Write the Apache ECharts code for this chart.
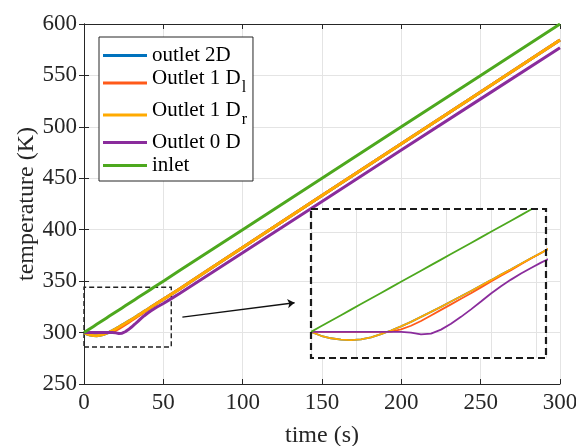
<!DOCTYPE html>
<html>
<head>
<meta charset="utf-8">
<script src="https://cdn.jsdelivr.net/npm/echarts@6/dist/echarts.min.js"></script>
<style>
  html, body { margin: 0; padding: 0; background: #fff; }
  #chart { width: 576px; height: 446px; }
</style>
</head>
<body>
<div id="chart"></div>
<script>
// time (s)
const time = [0, 2, 4, 6, 8, 10, 12, 14, 16, 18, 20, 22, 24, 26, 28, 30, 32, 34, 36, 38, 40, 42, 44, 46, 48, 50,
    55, 60, 80, 100, 150, 200, 250, 300];
// temperatures (K)
const outlet2D = [300, 298.6, 297.7, 297.2, 297.0, 297.3, 298.0, 299.2, 300.5, 302.0, 303.6, 305.4, 307.2, 309.0, 310.9, 312.8,
    314.7, 316.7, 318.6, 320.6, 322.5, 324.5, 326.5, 328.4, 330.4, 332.3, 337.2, 342.2, 362.5, 382.8, 433.2, 483.6, 534.0, 584.5];
const outlet1Dl = [300, 300, 300, 300, 300, 300, 300, 300, 300.1, 300.9, 302.2, 303.9, 305.9, 307.9, 309.9, 311.9,
    313.9, 316.0, 318.1, 320.2, 322.2, 324.3, 326.4, 328.4, 330.4, 332.3, 337.2, 342.2, 362.5, 382.8, 433.2, 483.6, 534.0, 584.5];
const outlet1Dr = [300, 298.6, 297.7, 297.2, 297.0, 297.3, 298.0, 299.2, 300.5, 302.0, 303.6, 305.4, 307.2, 309.0, 310.9, 312.8,
    314.7, 316.7, 318.6, 320.6, 322.5, 324.5, 326.5, 328.4, 330.4, 332.3, 337.2, 342.2, 362.5, 382.8, 433.2, 483.6, 534.0, 584.5];
const outlet0D = [300, 300, 300, 300, 300, 300, 300, 300, 300, 300, 299.7, 299.1, 299.4, 300.8, 302.9, 305.4,
    308.1, 310.9, 313.8, 316.4, 318.8, 321.0, 323.0, 324.9, 326.6, 328.3, 333.0, 337.8, 357.6, 377.5, 427.5, 477.5, 527.2, 577.0];
const inlet = [300, 302, 304, 306, 308, 310, 312, 314, 316, 318, 320, 322, 324, 326, 328, 330,
    332, 334, 336, 338, 340, 342, 344, 346, 348, 350, 355, 360, 380, 400, 450, 500, 550, 600];

const xTicks = [0, 50, 100, 150, 200, 250, 300];
const yTicks = [250, 300, 350, 400, 450, 500, 550, 600];

// zoom window marked on the main axes, and the range shown by the inset
const zoomBox = { x: [0, 55], y: [286, 344] };
const insetRange = { x: [0, 47], y: [290.6, 344.2] };
const insetGridY = [300, 318, 336];
const arrowFrom = [62, 315];
const arrowTo = [132.7, 329];

const seriesInfo = [
    { name: "outlet 2D", data: outlet2D, color: "#0072BD" },
    { name: "Outlet 1 Dl", data: outlet1Dl, color: "#FF5A1A" },
    { name: "Outlet 1 Dr", data: outlet1Dr, color: "#FFAA00" },
    { name: "Outlet 0 D", data: outlet0D, color: "#8A2C9C" },
    { name: "inlet", data: inlet, color: "#4DA81E" },
];

const FONT = "Liberation Serif";
const INK = "#262626";

const inset = { left: 311, top: 209, width: 235, height: 149 };

function pairs(arr) {
    return time.map((t, i) => [t, arr[i]]);
}

const chart = echarts.init(document.getElementById("chart"));

const series = [];
seriesInfo.forEach((s, i) => {
    const main = {
        name: s.name,
        type: "line",
        xAxisIndex: 0,
        yAxisIndex: 0,
        data: pairs(s.data),
        symbol: "none",
        lineStyle: { width: 3, color: s.color },
        itemStyle: { color: s.color },
        z: 2,
    };
    if (i === 0) {
        main.markArea = {
            silent: true,
            itemStyle: { color: "rgba(0,0,0,0)", borderColor: "#222", borderWidth: 1.4, borderType: [5, 3] },
            data: [[{ xAxis: zoomBox.x[0], yAxis: zoomBox.y[0] }, { xAxis: zoomBox.x[1], yAxis: zoomBox.y[1] }]],
        };
        main.markLine = {
            silent: true,
            symbol: ["none", "arrow"],
            symbolSize: 7,
            label: { show: false },
            lineStyle: { color: "#111", width: 1.3, type: "solid" },
            data: [[{ coord: arrowFrom }, { coord: arrowTo }]],
        };
    }
    series.push(main);
});
seriesInfo.forEach((s, i) => {
    const ins = {
        name: s.name,
        type: "line",
        xAxisIndex: 2,
        yAxisIndex: 2,
        data: pairs(s.data),
        symbol: "none",
        lineStyle: { width: 1.8, color: s.color },
        itemStyle: { color: s.color },
        z: 6,
    };
    if (i === 0) {
        ins.markLine = {
            silent: true,
            symbol: "none",
            z: 4,
            label: { show: false },
            lineStyle: { color: "#e3e3e3", width: 1, type: "solid" },
            data: insetGridY.map(v => ({ yAxis: v })),
        };
    }
    series.push(ins);
});

const tickLabel = { fontFamily: FONT, fontSize: 23, color: INK };

chart.setOption({
    animation: false,
    backgroundColor: "#fff",
    grid: [
        { left: 84, right: 16, top: 24, bottom: 62, outerBoundsMode: "none" },
        { left: inset.left, top: inset.top, width: inset.width, height: inset.height,
          outerBoundsMode: "none", show: true, backgroundColor: "#fff", borderWidth: 0, z: 3 },
    ],
    legend: {
        left: 99,
        top: 37,
        orient: "vertical",
        data: seriesInfo.map(s => s.name),
        icon: "rect",
        itemWidth: 44,
        itemHeight: 3,
        itemGap: 2,
        padding: [8, 6, 5, 4],
        backgroundColor: "#fff",
        borderColor: INK,
        borderWidth: 1,
        borderRadius: 0,
        selectedMode: false,
        formatter: function (name) {
            if (name === "Outlet 1 Dl") return "{mt|Outlet 1 D}{sub|l}";
            if (name === "Outlet 1 Dr") return "{mt|Outlet 1 D}{sub|r}";
            return "{m|" + name + "}";
        },
        textStyle: {
            fontFamily: FONT,
            fontSize: 21,
            color: "#000",
            rich: {
                m: { fontFamily: FONT, fontSize: 21, color: "#000", lineHeight: 24 },
                mt: { fontFamily: FONT, fontSize: 21, color: "#000", lineHeight: 24, padding: [0, 0, 9, 0] },
                sub: { fontFamily: FONT, fontSize: 16, color: "#000", lineHeight: 16, padding: [9, 0, 0, 1] },
            },
        },
    },
    xAxis: [
        {
            type: "value", gridIndex: 0, position: "bottom",
            min: xTicks[0], max: xTicks[xTicks.length - 1], interval: 50,
            name: "time (s)", nameLocation: "middle", nameGap: 40, nameMoveOverlap: false,
            nameTextStyle: { fontFamily: FONT, fontSize: 24, color: INK },
            axisLine: { lineStyle: { color: INK, width: 1 } },
            axisTick: { inside: true, length: 5, lineStyle: { color: INK } },
            axisLabel: Object.assign({ margin: 7 }, tickLabel),
            splitLine: { show: true, lineStyle: { color: "#e4e4e4", width: 1 } },
        },
        {
            type: "value", gridIndex: 0, position: "top",
            min: xTicks[0], max: xTicks[xTicks.length - 1], interval: 50,
            axisLine: { lineStyle: { color: INK, width: 1 } },
            axisTick: { inside: true, length: 5, lineStyle: { color: INK } },
            axisLabel: { show: false },
            splitLine: { show: false },
        },
        {
            type: "value", gridIndex: 1,
            min: insetRange.x[0], max: insetRange.x[1], interval: 9,
            z: 4,
            axisLine: { show: false },
            axisTick: { show: false },
            axisLabel: { show: false },
            splitLine: { show: true, lineStyle: { color: "#e3e3e3", width: 1 } },
        },
    ],
    yAxis: [
        {
            type: "value", gridIndex: 0, position: "left",
            min: yTicks[0], max: yTicks[yTicks.length - 1], interval: 50,
            name: "temperature (K)", nameLocation: "middle", nameGap: 45, nameMoveOverlap: false,
            nameTextStyle: { fontFamily: FONT, fontSize: 24, color: INK },
            axisLine: { show: true, lineStyle: { color: INK, width: 1 } },
            axisTick: { show: true, inside: true, length: 5, lineStyle: { color: INK } },
            axisLabel: Object.assign({ margin: 7 }, tickLabel),
            splitLine: { show: true, lineStyle: { color: "#e4e4e4", width: 1 } },
        },
        {
            type: "value", gridIndex: 0, position: "right",
            min: yTicks[0], max: yTicks[yTicks.length - 1], interval: 50,
            axisLine: { show: true, lineStyle: { color: INK, width: 1 } },
            axisTick: { show: true, inside: true, length: 5, lineStyle: { color: INK } },
            axisLabel: { show: false },
            splitLine: { show: false },
        },
        {
            type: "value", gridIndex: 1,
            min: insetRange.y[0], max: insetRange.y[1],
            z: 4,
            axisLine: { show: false },
            axisTick: { show: false },
            axisLabel: { show: false },
            splitLine: { show: false },
        },
    ],
    graphic: [
        {
            type: "rect",
            z: 10,
            silent: true,
            shape: { x: inset.left, y: inset.top, width: inset.width, height: inset.height },
            style: { fill: "none", stroke: "#1a1a1a", lineWidth: 2.2, lineDash: [7, 4] },
        },
    ],
    series: series,
});

window.addEventListener("resize", function () {
    chart.resize();
});
</script>
</body>
</html>
